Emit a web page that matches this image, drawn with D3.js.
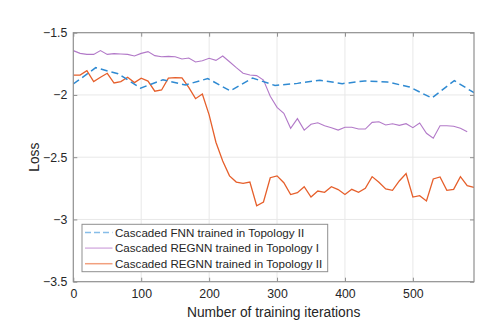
<!DOCTYPE html>
<html><head><meta charset="utf-8">
<script src="https://cdn.jsdelivr.net/npm/d3@7"></script>
<style>body{margin:0;background:#fff}svg{display:block}text{font-family:"Liberation Sans",Arial,sans-serif}</style>
</head><body><svg id="c" width="498" height="330"></svg>
<script>
const iterOrange = [0,10,20,30,40,50,60,70,80,90,100,110,120,130,140,150,160,170,180,190,200,210,220,230,240,250,260,270,280,290,300,310,320,330,340,350,360,370,380,390,400,410,420,430,440,450,460,470,480,490,500,510,520,530,540,550,560,570,580,590];
const lossOrange = [-1.84,-1.84,-1.805,-1.893,-1.858,-1.826,-1.904,-1.893,-1.858,-1.901,-1.865,-1.889,-1.970,-1.960,-1.865,-1.861,-1.862,-1.940,-2.030,-1.992,-2.16,-2.38,-2.53,-2.65,-2.70,-2.71,-2.70,-2.89,-2.86,-2.665,-2.65,-2.705,-2.80,-2.785,-2.737,-2.82,-2.772,-2.782,-2.737,-2.760,-2.80,-2.758,-2.782,-2.750,-2.656,-2.702,-2.755,-2.766,-2.691,-2.632,-2.820,-2.809,-2.852,-2.675,-2.659,-2.766,-2.758,-2.656,-2.729,-2.742];
const iterPurple = [0,10,20,30,40,50,60,70,80,90,100,110,120,130,140,150,160,170,180,190,200,210,220,230,240,250,260,270,280,290,300,310,320,330,340,350,360,370,380,390,400,410,420,430,440,450,460,470,480,490,500,510,520,530,540,550,560,570,580];
const lossPurple = [-1.644,-1.666,-1.674,-1.674,-1.644,-1.674,-1.668,-1.671,-1.674,-1.687,-1.666,-1.652,-1.684,-1.693,-1.690,-1.693,-1.711,-1.703,-1.735,-1.725,-1.706,-1.722,-1.687,-1.733,-1.781,-1.826,-1.840,-1.845,-1.880,-2.01,-2.10,-2.148,-2.268,-2.19,-2.282,-2.236,-2.223,-2.247,-2.263,-2.282,-2.26,-2.26,-2.274,-2.274,-2.22,-2.215,-2.241,-2.231,-2.244,-2.231,-2.263,-2.225,-2.308,-2.348,-2.247,-2.247,-2.252,-2.268,-2.295];
const iterBlue = [0,33,66,99,132,165,198,231,264,297,330,363,396,429,462,495,528,561,590];
const lossBlue = [-1.912,-1.781,-1.83,-1.945,-1.878,-1.92,-1.868,-1.967,-1.864,-1.924,-1.907,-1.882,-1.909,-1.888,-1.895,-1.936,-2.025,-1.885,-1.982];
const xTicks = [0,100,200,300,400,500];
const yTicks = [-3.5,-3,-2.5,-2,-1.5];
const seriesNames = ["Cascaded FNN trained in Topology II","Cascaded REGNN trained in Topology I","Cascaded REGNN trained in Topology II"];

const svg = d3.select("#c");
const L=73.3, R=474, T=32.7, B=281.7;
const x = d3.scaleLinear().domain([0,590]).range([L,R]);
const y = d3.scaleLinear().domain([-3.5,-1.5]).range([B,T]);
const axisCol = "#262626", boxCol="#8f8f8f", gridCol="#e8e8e8";

// grid
svg.append("g").selectAll("line").data(xTicks.slice(1)).join("line")
  .attr("x1",d=>x(d)).attr("x2",d=>x(d)).attr("y1",T).attr("y2",B)
  .attr("stroke",gridCol).attr("stroke-width",1);
svg.append("g").selectAll("line").data(yTicks.slice(1,-1)).join("line")
  .attr("y1",d=>y(d)).attr("y2",d=>y(d)).attr("x1",L).attr("x2",R)
  .attr("stroke",gridCol).attr("stroke-width",1);

svg.append("clipPath").attr("id","pc").append("rect")
  .attr("x",L).attr("y",T).attr("width",R-L).attr("height",B-T);
const plot = svg.append("g").attr("clip-path","url(#pc)");
const mk = (xs,ys)=>xs.map((v,i)=>[v,ys[i]]);
const line = d3.line().x(d=>x(d[0])).y(d=>y(d[1]));
plot.append("path").attr("d",line(mk(iterPurple,lossPurple))).attr("fill","none")
  .attr("stroke","#b279c8").attr("stroke-width",1.1);
plot.append("path").attr("d",line(mk(iterOrange,lossOrange))).attr("fill","none")
  .attr("stroke","#e65f2b").attr("stroke-width",1.3);
plot.append("path").attr("d",line(mk(iterBlue,lossBlue))).attr("fill","none")
  .attr("stroke","#2f8ad2").attr("stroke-width",1.5).attr("stroke-dasharray","7,4");

// axes
const xa = d3.axisBottom(x).tickValues(xTicks).tickSize(-4).tickPadding(8).tickFormat(d3.format("d"));
const ya = d3.axisLeft(y).tickValues(yTicks).tickSize(-4).tickPadding(6).tickFormat(d=>d3.format("")(d));
const gx = svg.append("g").attr("transform",`translate(0,${B})`).call(xa);
const gy = svg.append("g").attr("transform",`translate(${L},0)`).call(ya);
const gxt = svg.append("g").attr("transform",`translate(0,${T})`).call(d3.axisTop(x).tickValues(xTicks).tickSize(-4).tickFormat(""));
const gyr = svg.append("g").attr("transform",`translate(${R},0)`).call(d3.axisRight(y).tickValues(yTicks).tickSize(-4).tickFormat(""));
[gx,gy,gxt,gyr].forEach(g=>{
  g.select(".domain").remove();
  g.selectAll(".tick line").attr("stroke",boxCol);
  g.selectAll("text").attr("fill",axisCol).style("font-size","12.3px").style("font-family",'"Liberation Sans",Arial,sans-serif');
});
svg.append("rect").attr("x",L).attr("y",T).attr("width",R-L).attr("height",B-T)
  .attr("fill","none").attr("stroke",boxCol).attr("stroke-width",1.2);

// labels
svg.append("text").attr("x",(L+R)/2).attr("y",317).attr("text-anchor","middle")
  .attr("fill",axisCol).style("font-size","13.8px").text("Number of training iterations");
svg.append("text").attr("transform",`translate(39,${(T+B)/2}) rotate(-90)`).attr("text-anchor","middle")
  .attr("fill",axisCol).style("font-size","13.8px").text("Loss");

// legend
const lg = svg.append("g");
lg.append("rect").attr("x",82).attr("y",224.3).attr("width",245.7).attr("height",47.4)
  .attr("fill","#fff").attr("stroke",boxCol).attr("stroke-width",1);
const legCols = ["#86bde8","#d8b5e3","#f2a07e"];
const legDash = ["6,3",null,null];
seriesNames.forEach((n,i)=>{
  const yy = 232.5 + i*15.6;
  const l = lg.append("line").attr("x1",85).attr("x2",112.5).attr("y1",yy).attr("y2",yy)
    .attr("stroke",legCols[i]).attr("stroke-width",1.5);
  if(legDash[i]) l.attr("stroke-dasharray",legDash[i]);
  lg.append("text").attr("x",115).attr("y",yy+4.2).attr("fill",axisCol)
    .style("font-size","11.6px").text(n);
});
</script></body></html>
